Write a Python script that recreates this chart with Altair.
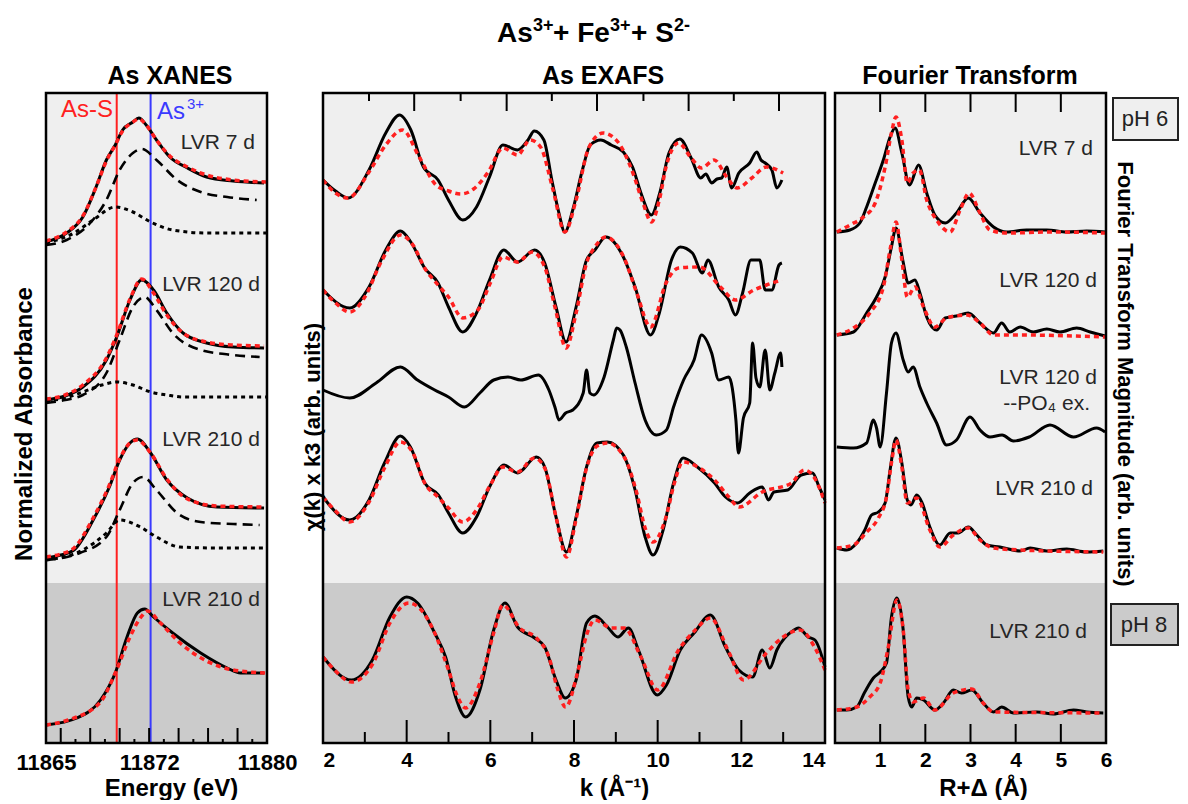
import altair as alt
import pandas as pd

FONT = "Liberation Sans"

# ---------------- XANES (energy eV, normalized absorbance, offset per sample) ----------------
xanes_7d_data = [(11865.0, 50.1), (11866.4, 51.0), (11867.5, 52.6), (11868.4, 55.6), (11869.1, 58.3),
                 (11869.7, 59.8), (11870.2, 61.3), (11870.9, 62.1), (11871.3, 62.5), (11871.8, 61.8),
                 (11872.5, 60.3), (11873.4, 58.6), (11874.6, 57.5), (11875.9, 56.6), (11877.7, 56.2),
                 (11879.8, 56.0)]
xanes_7d_fit = [(11865.0, 50.2), (11866.4, 51.1), (11867.5, 52.7), (11868.4, 55.6), (11869.1, 58.2),
                (11869.7, 59.8), (11870.2, 61.2), (11870.9, 62.1), (11871.3, 62.4), (11871.8, 61.8),
                (11872.5, 60.3), (11873.4, 58.7), (11874.6, 57.6), (11875.9, 56.8), (11877.7, 56.3),
                (11880.0, 56.1)]
xanes_7d_comp1 = [(11865.0, 49.8), (11866.4, 50.3), (11868.0, 52.0), (11869.1, 54.3), (11870.0, 57.3),
                  (11870.9, 59.0), (11871.5, 59.4), (11872.5, 58.3), (11873.9, 56.3), (11875.5, 55.1),
                  (11877.3, 54.6), (11879.3, 54.3)]
xanes_7d_comp2 = [(11865.0, 50.0), (11866.9, 51.0), (11868.2, 52.3), (11869.7, 53.6), (11870.9, 53.1),
                  (11872.1, 52.1), (11873.6, 51.3), (11875.9, 51.0), (11880.0, 51.0)]

xanes_120d_data = [(11865.0, 34.3), (11866.3, 34.7), (11867.5, 35.6), (11869.1, 38.3), (11869.8, 40.6),
                   (11870.7, 44.3), (11871.5, 46.3), (11872.3, 45.3), (11873.2, 43.0), (11874.3, 41.0),
                   (11875.9, 40.0), (11877.7, 39.6), (11879.8, 39.5)]
xanes_120d_fit = [(11865.0, 34.4), (11866.3, 34.8), (11867.5, 35.8), (11869.1, 38.5), (11869.8, 40.8),
                  (11870.7, 44.4), (11871.5, 46.4), (11872.3, 45.0), (11873.2, 42.8), (11874.3, 41.0),
                  (11875.9, 40.1), (11877.7, 39.8), (11879.8, 39.7)]
xanes_120d_comp1 = [(11865.0, 34.0), (11866.3, 34.3), (11867.5, 34.8), (11869.1, 37.0), (11870.0, 40.3),
                    (11870.9, 43.6), (11871.7, 44.6), (11872.5, 43.3), (11873.6, 41.0), (11875.5, 39.3),
                    (11877.7, 38.8), (11879.5, 38.6)]
xanes_120d_comp2 = [(11865.0, 34.2), (11866.3, 34.5), (11867.5, 35.1), (11868.8, 35.8), (11869.8, 36.1),
                    (11870.9, 35.8), (11872.1, 35.1), (11873.2, 34.8), (11874.3, 34.6), (11876.5, 34.6),
                    (11880.0, 34.6)]

xanes_210d_data = [(11865.0, 18.5), (11866.0, 18.8), (11866.9, 19.3), (11868.2, 22.3), (11869.3, 25.6),
                   (11870.0, 28.3), (11870.7, 30.0), (11871.2, 30.4), (11872.1, 29.0), (11873.2, 26.3),
                   (11874.6, 24.5), (11876.6, 23.6), (11879.8, 23.5)]
xanes_210d_fit = [(11865.0, 18.6), (11866.0, 18.9), (11866.9, 19.5), (11868.2, 22.5), (11869.3, 25.8),
                  (11870.0, 28.4), (11870.7, 30.0), (11871.2, 30.3), (11872.1, 29.0), (11873.2, 26.4),
                  (11874.6, 24.4), (11876.6, 23.7), (11879.8, 23.6)]
xanes_210d_comp1 = [(11865.0, 18.3), (11867.3, 19.0), (11869.1, 20.6), (11870.0, 23.3), (11870.9, 26.0),
                    (11871.6, 26.6), (11872.5, 25.3), (11873.9, 23.0), (11875.5, 22.1), (11877.7, 21.9),
                    (11879.5, 21.8)]
xanes_210d_comp2 = [(11865.0, 18.3), (11867.5, 19.3), (11869.1, 21.0), (11870.0, 22.3), (11871.4, 21.6),
                    (11872.5, 20.6), (11874.1, 19.6), (11876.6, 19.5), (11880.0, 19.5)]

xanes_ph8_data = [(11865.0, 1.8), (11867.1, 2.5), (11868.7, 4.3), (11869.7, 7.0), (11870.5, 10.6),
                  (11871.2, 13.0), (11871.7, 13.4), (11872.3, 12.6), (11873.6, 11.0), (11875.5, 9.0),
                  (11877.3, 7.5), (11878.2, 7.0), (11879.8, 7.0)]
xanes_ph8_fit = [(11865.0, 1.8), (11866.5, 2.3), (11868.7, 4.1), (11869.7, 7.0), (11870.7, 10.6),
                 (11871.4, 12.5), (11871.9, 13.2), (11872.7, 12.1), (11874.1, 10.0), (11875.9, 8.2),
                 (11877.7, 7.3), (11880.0, 7.0)]

xanes_edge_lines = [11869.8, 11872.1]          # As-S, As3+
xanes_tick_labels = [11865, 11872, 11880]
xanes_major_ticks = [11866, 11868, 11870, 11872, 11874, 11876, 11878]
xanes_minor_ticks = [11867, 11869, 11871, 11873, 11875, 11877, 11879]

# ---------------- EXAFS (k, chi(k)k^3 offset) ----------------
exafs_7d_data = [(2.0, 56.3), (2.3, 55.2), (2.6, 54.5), (3.1, 57.3), (3.5, 61.0), (3.83, 62.8), (4.1, 61.3),
                 (4.4, 57.6), (4.75, 56.3), (5.0, 54.3), (5.34, 52.3), (5.67, 53.6), (5.98, 56.6), (6.3, 59.8),
                 (6.65, 59.3), (6.9, 60.3), (7.05, 61.2), (7.28, 60.3), (7.47, 56.3), (7.64, 53.0), (7.78, 51.1),
                 (7.97, 53.3), (8.2, 57.3), (8.39, 59.8), (8.64, 60.3), (8.89, 59.8), (9.18, 59.1), (9.4, 57.6),
                 (9.6, 55.0), (9.85, 52.8), (10.05, 55.0), (10.27, 59.0), (10.53, 60.4), (10.8, 58.5),
                 (11.03, 56.5), (11.15, 56.9), (11.29, 56.0), (11.42, 56.4), (11.53, 56.5), (11.65, 57.6),
                 (11.77, 55.5), (11.94, 57.0), (12.2, 58.0), (12.37, 59.1), (12.47, 58.3), (12.57, 58.0),
                 (12.73, 57.3), (12.85, 55.5), (12.97, 56.3)]
exafs_7d_fit = [(2.0, 56.3), (2.3, 55.0), (2.6, 54.5), (3.1, 57.1), (3.5, 59.8), (3.9, 61.3), (4.3, 58.6),
                (4.7, 55.8), (5.0, 55.2), (5.3, 54.9), (5.6, 55.4), (5.95, 57.1), (6.3, 59.5), (6.65, 58.8),
                (6.95, 60.3), (7.2, 59.6), (7.5, 55.3), (7.78, 51.1), (8.05, 54.3), (8.35, 59.5), (8.7, 61.0),
                (9.05, 60.1), (9.4, 57.1), (9.65, 54.0), (9.85, 52.1), (10.05, 54.5), (10.2, 57.6),
                (10.5, 60.0), (10.8, 58.5), (11.05, 57.5), (11.35, 58.3), (11.65, 56.6), (11.9, 55.5),
                (12.25, 56.5), (12.6, 57.6), (13.0, 57.0)]

exafs_120d_data = [(2.0, 45.3), (2.64, 43.5), (3.1, 45.6), (3.5, 49.3), (3.85, 51.2), (4.1, 50.1), (4.43, 47.5),
                   (4.75, 46.0), (5.0, 43.6), (5.34, 41.1), (5.67, 43.0), (5.98, 46.3), (6.32, 49.3),
                   (6.65, 48.1), (7.06, 49.3), (7.3, 48.0), (7.57, 43.6), (7.81, 40.1), (8.05, 43.6),
                   (8.3, 48.3), (8.5, 49.3), (8.76, 50.6), (9.18, 48.6), (9.46, 45.6), (9.83, 40.8),
                   (10.04, 43.0), (10.33, 48.3), (10.54, 49.6), (10.83, 49.0), (11.07, 47.0), (11.2, 48.3),
                   (11.46, 45.6), (11.7, 44.3), (11.86, 42.8), (12.03, 45.0), (12.23, 48.3), (12.44, 48.3),
                   (12.57, 45.3), (12.73, 45.3), (12.9, 47.8), (12.97, 48.0)]
exafs_120d_fit = [(2.0, 45.3), (2.3, 44.0), (2.64, 43.1), (3.0, 44.6), (3.4, 48.2), (3.85, 50.8), (4.15, 49.8),
                  (4.43, 47.5), (4.75, 45.8), (5.0, 44.6), (5.34, 42.5), (5.7, 43.3), (6.0, 46.0), (6.3, 48.6),
                  (6.65, 48.1), (7.0, 49.1), (7.3, 47.6), (7.55, 43.5), (7.81, 39.5), (8.05, 43.0),
                  (8.3, 48.0), (8.5, 49.6), (8.76, 50.6), (9.2, 48.5), (9.5, 45.0), (9.83, 41.6),
                  (10.2, 46.0), (10.5, 47.5), (11.0, 47.6), (11.5, 45.6), (11.86, 44.3), (12.3, 45.3),
                  (12.6, 45.8), (12.97, 46.3)]

exafs_po4_data = [(2.0, 35.3), (2.64, 34.5), (3.27, 36.0), (3.85, 37.6), (4.26, 36.3), (4.67, 35.3),
                  (5.0, 34.6), (5.38, 33.6), (5.75, 35.0), (6.08, 36.3), (6.42, 36.6), (6.73, 36.3),
                  (7.15, 36.8), (7.4, 35.3), (7.55, 33.5), (7.64, 32.3), (7.8, 33.0), (7.97, 33.3),
                  (8.22, 35.0), (8.3, 37.3), (8.38, 35.0), (8.47, 34.8), (8.72, 36.6), (8.94, 40.3),
                  (9.02, 41.5), (9.1, 41.3), (9.25, 39.6), (9.46, 36.0), (9.7, 32.3), (9.97, 30.8),
                  (10.21, 31.3), (10.38, 33.6), (10.62, 36.3), (10.87, 38.3), (11.05, 40.8), (11.29, 39.0),
                  (11.46, 36.3), (11.7, 36.6), (11.87, 32.3), (11.93, 29.0), (12.05, 32.5), (12.2, 34.0),
                  (12.27, 40.0), (12.35, 36.5), (12.44, 35.6), (12.57, 39.3), (12.68, 35.3), (12.8, 37.0),
                  (12.94, 39.0), (12.97, 37.6)]

exafs_210d_data = [(2.0, 24.6), (2.64, 22.3), (3.1, 24.3), (3.47, 28.0), (3.85, 30.7), (4.09, 29.6),
                   (4.43, 26.0), (4.76, 24.8), (5.0, 23.0), (5.34, 21.0), (5.67, 22.6), (5.98, 25.6),
                   (6.33, 27.8), (6.65, 27.0), (7.1, 28.6), (7.3, 27.6), (7.57, 22.6), (7.82, 19.1),
                   (8.05, 22.6), (8.3, 27.6), (8.55, 30.0), (8.8, 30.1), (9.18, 28.8), (9.46, 25.3),
                   (9.7, 20.6), (9.89, 18.8), (10.13, 21.3), (10.38, 26.0), (10.61, 28.5), (10.95, 27.6),
                   (11.36, 26.0), (11.62, 24.6), (11.91, 24.0), (12.2, 25.0), (12.5, 25.6), (12.65, 24.3),
                   (12.78, 25.1), (13.11, 25.3), (13.43, 26.8), (13.7, 27.0), (13.86, 25.6), (14.0, 24.3)]
exafs_210d_fit = [(2.0, 24.6), (2.3, 23.2), (2.64, 22.1), (3.1, 24.1), (3.47, 27.5), (3.85, 30.1), (4.15, 29.0),
                  (4.43, 26.0), (4.75, 24.6), (5.0, 23.5), (5.34, 22.1), (5.67, 23.3), (6.0, 25.8), (6.3, 27.6),
                  (6.65, 27.1), (7.05, 28.5), (7.3, 27.5), (7.57, 22.6), (7.82, 18.6), (8.05, 22.4),
                  (8.3, 27.5), (8.55, 29.7), (8.8, 30.0), (9.2, 28.6), (9.5, 25.0), (9.7, 21.5), (9.89, 20.1),
                  (10.2, 22.6), (10.4, 26.0), (10.6, 28.1), (11.0, 27.5), (11.36, 26.3), (11.7, 24.6),
                  (11.95, 23.6), (12.5, 25.1), (13.2, 26.0), (13.5, 27.3), (13.75, 26.5), (14.0, 24.0)]

exafs_ph8_data = [(2.0, 8.6), (2.68, 6.3), (3.18, 8.3), (3.6, 12.6), (4.0, 14.6), (4.26, 14.0), (4.67, 11.0),
                  (4.93, 8.6), (5.17, 4.6), (5.41, 2.6), (5.75, 5.3), (6.08, 11.3), (6.35, 14.0), (6.65, 11.6),
                  (7.06, 10.5), (7.3, 9.6), (7.57, 6.3), (7.79, 4.5), (8.05, 6.3), (8.3, 12.0), (8.5, 12.7),
                  (8.8, 11.6), (9.05, 10.6), (9.3, 11.5), (9.54, 9.3), (9.99, 4.8), (10.21, 5.8), (10.54, 9.3),
                  (10.87, 11.0), (11.26, 12.8), (11.62, 9.6), (11.94, 7.3), (12.27, 6.6), (12.5, 9.3),
                  (12.68, 7.5), (12.85, 9.3), (13.26, 11.3), (13.36, 11.5), (13.6, 10.6), (13.76, 10.3),
                  (14.0, 7.6)]
exafs_ph8_fit = [(2.0, 8.6), (2.3, 7.2), (2.68, 6.1), (3.2, 8.0), (3.6, 12.0), (4.05, 14.0), (4.35, 13.3),
                 (4.67, 11.0), (5.0, 7.3), (5.2, 4.8), (5.41, 3.5), (5.75, 6.0), (6.08, 11.0), (6.3, 13.8),
                 (6.7, 11.5), (7.1, 10.5), (7.4, 8.6), (7.6, 5.5), (7.8, 3.6), (8.1, 7.3), (8.3, 10.8),
                 (8.5, 12.3), (8.9, 11.5), (9.2, 11.5), (9.6, 8.6), (10.0, 5.3), (10.5, 9.3), (10.9, 11.3),
                 (11.26, 12.5), (11.7, 9.1), (12.05, 6.3), (12.6, 9.0), (13.0, 10.6), (13.4, 11.3),
                 (13.75, 9.6), (14.0, 7.3)]

exafs_tick_labels = [2, 4, 6, 8, 10, 12, 14]
exafs_major_ticks = [4, 6, 8, 10, 12]
exafs_minor_ticks = [3, 5, 7, 9, 11, 13]
exafs_top_major = [4.18, 6.39, 8.55, 10.74, 12.90]
exafs_top_minor = [3.10, 5.29, 7.47, 9.66, 11.82]

# ---------------- Fourier transform (R+delta, magnitude offset) ----------------
ft_7d_data = [(0.04, 51.1), (0.33, 51.3), (0.55, 52.0), (0.70, 53.6), (0.89, 56.0), (1.07, 58.3), (1.22, 60.6),
              (1.33, 61.5), (1.48, 59.0), (1.65, 55.8), (1.85, 57.8), (2.03, 55.0), (2.21, 52.8), (2.44, 52.0),
              (2.69, 53.0), (2.95, 54.5), (3.21, 53.0), (3.51, 51.6), (3.80, 51.1), (4.24, 51.3), (4.69, 51.3),
              (5.13, 51.1), (5.57, 51.2), (5.98, 51.1)]
ft_7d_fit = [(0.04, 51.1), (0.33, 51.8), (0.63, 52.6), (0.89, 54.0), (1.11, 57.6), (1.25, 61.0), (1.35, 62.6),
             (1.48, 60.3), (1.60, 56.0), (1.73, 57.0), (1.87, 57.3), (2.03, 54.3), (2.25, 52.3), (2.55, 51.1),
             (2.77, 53.3), (2.97, 55.0), (3.21, 53.0), (3.43, 51.3), (3.80, 51.0), (4.83, 51.1), (5.98, 51.0)]
ft_120d_data = [(0.04, 40.8), (0.41, 41.1), (0.70, 43.0), (0.92, 44.6), (1.11, 46.6), (1.25, 49.6), (1.35, 51.5),
                (1.50, 48.3), (1.62, 46.0), (1.77, 46.3), (1.88, 45.0), (2.03, 42.6), (2.25, 41.3), (2.44, 42.5),
                (2.69, 42.7), (2.95, 43.0), (3.21, 42.0), (3.51, 41.0), (3.69, 42.0), (3.87, 41.1), (4.10, 41.6),
                (4.39, 41.1), (4.69, 41.4), (4.98, 41.1), (5.35, 41.5), (5.65, 41.1), (5.98, 40.7)]
ft_120d_fit = [(0.04, 40.8), (0.41, 41.5), (0.77, 43.0), (1.07, 45.6), (1.23, 49.6), (1.35, 52.1), (1.48, 48.3),
               (1.60, 44.6), (1.77, 45.6), (1.96, 43.6), (2.21, 41.6), (2.47, 42.5), (2.92, 42.8), (3.21, 42.0),
               (3.51, 40.8), (4.10, 40.8), (5.98, 40.6)]
ft_po4_data = [(0.04, 29.6), (0.41, 29.5), (0.70, 30.0), (0.85, 32.3), (0.92, 31.5), (1.0, 29.6), (1.14, 35.0),
               (1.25, 40.0), (1.35, 41.0), (1.51, 38.3), (1.62, 37.1), (1.73, 37.6), (1.88, 35.6), (2.03, 34.0),
               (2.25, 32.0), (2.47, 29.8), (2.69, 30.3), (2.99, 32.6), (3.21, 31.3), (3.43, 30.6), (3.70, 30.8),
               (3.95, 30.2), (4.30, 30.6), (4.76, 31.8), (5.28, 30.6), (5.79, 31.5), (5.98, 31.1)]
ft_210d_data = [(0.04, 19.5), (0.26, 19.3), (0.48, 20.0), (0.66, 21.3), (0.81, 22.8), (0.96, 23.1), (1.11, 24.0),
                (1.22, 27.3), (1.35, 30.5), (1.48, 28.0), (1.60, 24.3), (1.68, 23.8), (1.81, 24.8), (1.92, 24.1),
                (2.10, 21.6), (2.32, 19.8), (2.55, 21.0), (2.73, 21.0), (2.95, 21.6), (3.14, 20.8), (3.36, 19.8),
                (3.65, 19.6), (4.10, 19.2), (4.32, 19.5), (4.69, 19.2), (5.13, 19.4), (5.57, 19.1), (5.94, 19.2)]
ft_210d_fit = [(0.04, 19.5), (0.41, 19.8), (0.70, 21.1), (0.96, 22.5), (1.14, 24.6), (1.26, 28.3), (1.35, 30.3),
               (1.48, 27.6), (1.60, 24.0), (1.81, 24.5), (2.10, 21.3), (2.32, 19.6), (2.62, 20.8), (2.95, 21.5),
               (3.21, 20.3), (3.51, 19.5), (4.10, 19.3), (5.94, 19.1)]
ft_ph8_data = [(0.04, 3.3), (0.26, 3.3), (0.48, 3.6), (0.66, 5.1), (0.85, 6.5), (1.0, 7.1), (1.14, 8.0),
               (1.25, 12.6), (1.37, 14.5), (1.51, 11.3), (1.62, 4.6), (1.70, 3.6), (1.81, 4.5), (1.96, 4.3),
               (2.21, 3.3), (2.40, 4.0), (2.62, 5.3), (2.80, 5.0), (3.03, 5.3), (3.28, 4.0), (3.51, 3.1),
               (3.69, 3.6), (3.95, 3.0), (4.47, 3.1), (4.83, 2.9), (5.28, 3.3), (5.57, 3.1), (5.94, 3.0)]
ft_ph8_fit = [(0.04, 3.3), (0.48, 3.6), (0.77, 4.6), (1.0, 6.0), (1.18, 9.6), (1.37, 14.3), (1.51, 11.3),
              (1.62, 5.3), (1.73, 4.1), (1.96, 4.5), (2.21, 3.3), (2.62, 5.0), (3.03, 5.4), (3.28, 4.0),
              (3.51, 3.1), (5.94, 3.0)]

ft_tick_labels = [1, 2, 3, 4, 5, 6]
ft_major_ticks = [1, 2, 3, 4, 5]

# ---------------- helpers ----------------
H = 650
SPLIT = 490
W_X, W_GAP, W_E, W_F = 221, 36, 502, 271
GAP = 10
LIGHT, DARK = "#efefef", "#cbcbcb"
RED, BLUE = "#ff2020", "#3a3aff"
one = pd.DataFrame({"a": [0]})


def curves(specs):
    frames = []
    for name, pairs in specs:
        frames.append(pd.DataFrame({"x": [p[0] for p in pairs], "y": [p[1] for p in pairs], "curve": name}))
    return pd.concat(frames, ignore_index=True)


def line_layer(df, X, Y, color, width, dash=None):
    kw = dict(color=color, strokeWidth=width, interpolate="monotone")
    if dash:
        kw["strokeDash"] = dash
    return alt.Chart(df).mark_line(**kw).encode(x=X, y=Y, detail="curve:N")


def tick_layer(values, X, y0, y1):
    return alt.Chart(pd.DataFrame({"x": values})).mark_rule(color="black", strokeWidth=2).encode(
        x=X, y=alt.value(y0), y2=alt.value(y1))


def box(x0, x1, y0, y1, fill, stroke="none", sw=0):
    kw = dict(color=fill)
    if sw:
        kw = dict(fill=fill, stroke=stroke, strokeWidth=sw)
    return alt.Chart(one).mark_rect(**kw).encode(
        x=alt.value(x0), x2=alt.value(x1), y=alt.value(y0), y2=alt.value(y1))


def frame(w):
    return alt.Chart(one).mark_rect(fillOpacity=0, stroke="black", strokeWidth=2.5).encode(
        x=alt.value(0), x2=alt.value(w), y=alt.value(0), y2=alt.value(H))


def text(t, x, y, size=21, color="#262626", align="center", weight="normal", angle=None, baseline="middle"):
    kw = dict(text=t, fontSize=size, color=color, align=align, baseline=baseline, font=FONT, fontWeight=weight)
    if angle is not None:
        kw["angle"] = angle
    return alt.Chart(one).mark_text(**kw).encode(x=alt.value(x), y=alt.value(y))


def x_enc(domain, values, title, title_x, pad, size, flush=False):
    return alt.X("x:Q", scale=alt.Scale(domain=domain, nice=False, zero=False),
                 axis=alt.Axis(values=values, format="d", ticks=False, tickSize=0, domain=False, grid=False,
                               labelFont=FONT, labelFontSize=size, labelFontWeight="bold", labelColor="black",
                               labelPadding=pad, labelBaseline="middle", labelFlush=flush, labelOverlap=False,
                               title=title, titleFont=FONT, titleFontSize=24, titleFontWeight="bold",
                               titleColor="black", titleX=title_x, titleY=45, titleBaseline="middle",
                               titleAlign="center"))


Y = alt.Y("y:Q", scale=alt.Scale(domain=[0, 65], nice=False, zero=False), axis=None)

# main title pieces: (text, x, superscript?)
title_parts = [("As", 451, False), ("3+", 487, True), ("+ Fe", 507, False),
               ("3+", 564, True), ("+ S", 585, False), ("2-", 628, True)]
title_layers = []
for t, x, sup in title_parts:
    if sup:
        title_layers.append(text(t, x, -62, size=18, color="black", align="left", weight="bold", baseline="alphabetic"))
    else:
        title_layers.append(text(t, x, -51, size=28, color="black", align="left", weight="bold", baseline="alphabetic"))

# ---------------- XANES panel ----------------
Xx = x_enc([11865, 11880], xanes_tick_labels, "Energy (eV)", 125, 19, 22)
x_data = curves([("7d", xanes_7d_data), ("120d", xanes_120d_data), ("210d", xanes_210d_data), ("ph8", xanes_ph8_data)])
x_fit = curves([("7d", xanes_7d_fit), ("120d", xanes_120d_fit), ("210d", xanes_210d_fit), ("ph8", xanes_ph8_fit)])
x_c1 = curves([("7d", xanes_7d_comp1), ("120d", xanes_120d_comp1), ("210d", xanes_210d_comp1)])
x_c2 = curves([("7d", xanes_7d_comp2), ("120d", xanes_120d_comp2), ("210d", xanes_210d_comp2)])

xanes = alt.layer(
    box(0, W_X, 0, SPLIT, LIGHT),
    box(0, W_X, SPLIT, H, DARK),
    box(-38, -37, -85, -84, "white"),
    alt.Chart(pd.DataFrame({"x": [xanes_edge_lines[0]]})).mark_rule(color=RED, strokeWidth=2).encode(x=Xx),
    alt.Chart(pd.DataFrame({"x": [xanes_edge_lines[1]]})).mark_rule(color=BLUE, strokeWidth=2).encode(x=Xx),
    line_layer(x_c1, Xx, Y, "black", 2.6, [10, 6]),
    line_layer(x_c2, Xx, Y, "black", 3, [4, 4]),
    line_layer(x_data, Xx, Y, "black", 3),
    line_layer(x_fit, Xx, Y, RED, 3.5, [5, 4]),
    tick_layer(xanes_major_ticks, Xx, H, H - 15),
    tick_layer(xanes_minor_ticks, Xx, H, H - 4),
    frame(W_X),
    text("As-S", 67, 17, size=24, color=RED, align="right"),
    text("As", 111, 26, size=24, color=BLUE, align="left", baseline="alphabetic"),
    text("3+", 141, 16, size=15, color=BLUE, align="left", baseline="alphabetic"),
    text("LVR 7 d", 209, 50, align="right"),
    text("LVR 120 d", 214, 192, align="right"),
    text("LVR 210 d", 214, 347, align="right"),
    text("LVR 210 d", 214, 507, align="right"),
    text("As XANES", 124, -17, size=25, color="black", weight="bold"),
    *title_layers,
    text("Normalized Absorbance", -21, 331, size=24, color="black", weight="bold", angle=270),
).properties(width=W_X, height=H)

spacer = alt.Chart(one).mark_point(opacity=0).encode(x=alt.value(0), y=alt.value(0)).properties(
    width=W_GAP, height=H)

# ---------------- EXAFS panel ----------------
Xe = x_enc([2, 14], exafs_tick_labels, "k (Å⁻¹)", 291, 17, 21, flush=True)
e_data = curves([("7d", exafs_7d_data), ("120d", exafs_120d_data), ("po4", exafs_po4_data),
                 ("210d", exafs_210d_data), ("ph8", exafs_ph8_data)])
e_fit = curves([("7d", exafs_7d_fit), ("120d", exafs_120d_fit), ("210d", exafs_210d_fit), ("ph8", exafs_ph8_fit)])

exafs = alt.layer(
    box(0, W_E, 0, SPLIT, LIGHT),
    box(0, W_E, SPLIT, H, DARK),
    line_layer(e_data, Xe, Y, "black", 3),
    line_layer(e_fit, Xe, Y, RED, 3.5, [5, 4]),
    tick_layer(exafs_major_ticks, Xe, H, H - 23),
    tick_layer(exafs_minor_ticks, Xe, H, H - 11),
    tick_layer(exafs_top_major, Xe, 0, 18),
    tick_layer(exafs_top_minor, Xe, 0, 8),
    frame(W_E),
    text("As EXAFS", 280, -17, size=25, color="black", weight="bold"),
    text("χ(k) x k3 (arb. units)", -10, 334, size=22, color="black", weight="bold", angle=270),
).properties(width=W_E, height=H)

# ---------------- Fourier transform panel ----------------
Xf = x_enc([0, 6], ft_tick_labels, "R+Δ (Å)", 148, 17, 21)
f_data = curves([("7d", ft_7d_data), ("120d", ft_120d_data), ("po4", ft_po4_data),
                 ("210d", ft_210d_data), ("ph8", ft_ph8_data)])
f_fit = curves([("7d", ft_7d_fit), ("120d", ft_120d_fit), ("210d", ft_210d_fit), ("ph8", ft_ph8_fit)])

ft = alt.layer(
    box(0, W_F, 0, SPLIT, LIGHT),
    box(0, W_F, SPLIT, H, DARK),
    line_layer(f_data, Xf, Y, "black", 3),
    line_layer(f_fit, Xf, Y, RED, 3.5, [5, 4]),
    tick_layer(ft_major_ticks, Xf, H, H - 19),
    tick_layer(ft_major_ticks, Xf, 0, 19),
    frame(W_F),
    text("LVR 7 d", 258, 56, align="right"),
    text("LVR 120 d", 262, 188, align="right"),
    text("LVR 120 d", 262, 285, align="right"),
    text("--PO₄ ex.", 255, 311, align="right"),
    text("LVR 210 d", 258, 396, align="right"),
    text("LVR 210 d", 252, 539, align="right"),
    text("Fourier Transform", 135, -17, size=25, color="black", weight="bold"),
    text("Fourier Transform Magnitude (arb. units)", 290, 281, size=22, color="black", weight="bold", angle=90),
    box(278, 343, 5, 47, LIGHT, "#222222", 2),
    text("pH 6", 310, 26, size=22, color="#222222"),
    box(276, 343, 511, 552, DARK, "#222222", 2),
    text("pH 8", 309, 532, size=22, color="#222222"),
).properties(width=W_F, height=H)

chart = alt.hconcat(xanes, spacer, exafs, ft, spacing=GAP, bounds="flush").properties(
    padding={"left": 0, "top": 0, "right": 0, "bottom": 0}
).configure_view(strokeOpacity=0)

chart.save("out.html", embed_options={"renderer": "svg", "actions": False})
